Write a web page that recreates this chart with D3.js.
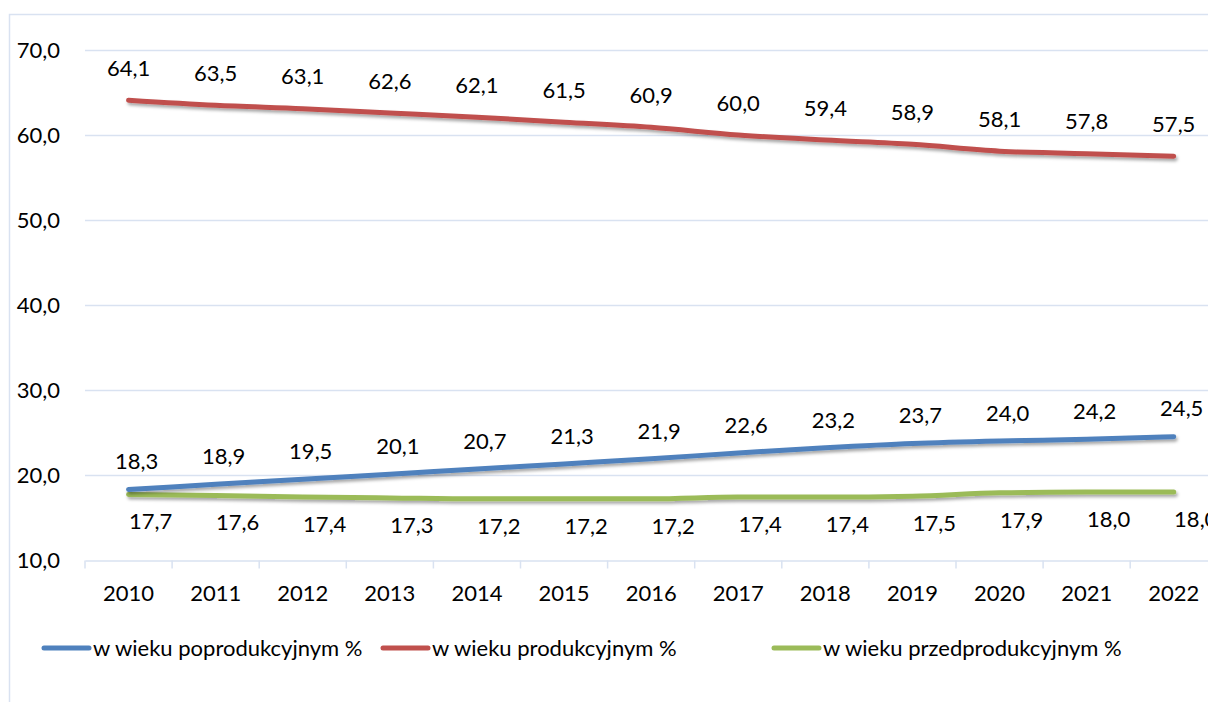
<!DOCTYPE html>
<html><head><meta charset="utf-8">
<script src="https://cdn.jsdelivr.net/npm/d3@7"></script>
<style>body{margin:0;background:#fff;} svg{display:block;font-family:Lato,sans-serif;}</style>
</head><body>
<svg id="c" width="1208" height="702"></svg>
<script>
const years = ["2010","2011","2012","2013","2014","2015","2016","2017","2018","2019","2020","2021","2022"];
const poprodukcyjny = [18.3,18.9,19.5,20.1,20.7,21.3,21.9,22.6,23.2,23.7,24.0,24.2,24.5];
const produkcyjny = [64.1,63.5,63.1,62.6,62.1,61.5,60.9,60.0,59.4,58.9,58.1,57.8,57.5];
const przedprodukcyjny = [17.7,17.6,17.4,17.3,17.2,17.2,17.2,17.4,17.4,17.5,17.9,18.0,18.0];
const yTicks = [10,20,30,40,50,60,70];
const seriesNames = ["w wieku poprodukcyjnym %","w wieku produkcyjnym %","w wieku przedprodukcyjnym %"];

const svg = d3.select("#c");
const fmt = v => v.toFixed(1).replace(".", ",");
const x = d3.scaleBand().domain(years).range([85, 85 + 13*87.1]);
const y = d3.scaleLinear().domain([10,70]).range([560,50]);
const gridC = "#d9e2f1", fs = 22;

// frame
svg.append("path").attr("d","M9.5,702 V14.5 H1208").attr("fill","none").attr("stroke",gridC).attr("stroke-width",1.5);

const defs = svg.append("defs");
const f = defs.append("filter").attr("id","sh").attr("x","-10%").attr("y","-50%").attr("width","120%").attr("height","300%");
f.append("feDropShadow").attr("dx",1.5).attr("dy",2.5).attr("stdDeviation",1.6).attr("flood-color","#000").attr("flood-opacity",0.35);

// grid
svg.append("g").selectAll("line").data(yTicks.filter(t=>t>10)).join("line")
  .attr("x1",85).attr("x2",1208).attr("y1",d=>y(d)+0.5).attr("y2",d=>y(d)+0.5)
  .attr("stroke",gridC).attr("stroke-width",1.5);

// y labels
svg.append("g").selectAll("text").data(yTicks).join("text")
  .attr("x",60).attr("y",d=>y(d)).attr("dy","0.35em").attr("text-anchor","end")
  .attr("font-size",fs).attr("fill","#000").text(fmt);

// x axis
const xa = svg.append("g").attr("transform","translate(0,560.5)")
  .call(d3.axisBottom(x).tickSize(0).tickPadding(25));
xa.select(".domain").attr("stroke",gridC).attr("stroke-width",1.5);
xa.selectAll("text").attr("font-size",fs).attr("fill","#000").attr("font-family","Lato");
xa.selectAll(".bd").data(d3.range(14)).join("line").attr("class","bd")
  .attr("x1",i=>85+i*x.step()).attr("x2",i=>85+i*x.step()).attr("y1",0).attr("y2",8)
  .attr("stroke",gridC).attr("stroke-width",1.5);

const cx = d => x(d) + x.bandwidth()/2;
const series = [
  {vals: poprodukcyjny, color:"#4f81bd", dx:8, dy:-28},
  {vals: produkcyjny, color:"#c0504d", dx:0, dy:-32},
  {vals: przedprodukcyjny, color:"#9bbb59", dx:22, dy:27}
];
const line = d3.line().x((d,i)=>cx(years[i])).y(d=>y(d)).curve(d3.curveMonotoneX);
[2,0,1].forEach(k=>{
  const s = series[k];
  svg.append("path").attr("d",line(s.vals)).attr("fill","none").attr("stroke",s.color)
    .attr("stroke-width",5).attr("stroke-linecap","round").attr("filter","url(#sh)");
});
series.forEach(s=>{
  svg.append("g").selectAll("text").data(s.vals).join("text")
    .attr("x",(d,i)=>cx(years[i])+s.dx).attr("y",d=>y(d)+s.dy).attr("dy","0.35em")
    .attr("text-anchor","middle").attr("font-size",fs).attr("fill","#000").text(fmt);
});

// legend
const lg = [{x:42,c:"#4f81bd"},{x:381,c:"#c0504d"},{x:772,c:"#9bbb59"}];
lg.forEach((l,i)=>{
  svg.append("line").attr("x1",l.x+2).attr("x2",l.x+47).attr("y1",648).attr("y2",648)
    .attr("stroke",l.c).attr("stroke-width",5).attr("stroke-linecap","round");
  svg.append("text").attr("x",l.x+51).attr("y",648).attr("dy","0.35em").attr("font-size",fs)
    .attr("fill","#000").text(seriesNames[i]);
});
</script>
</body></html>
